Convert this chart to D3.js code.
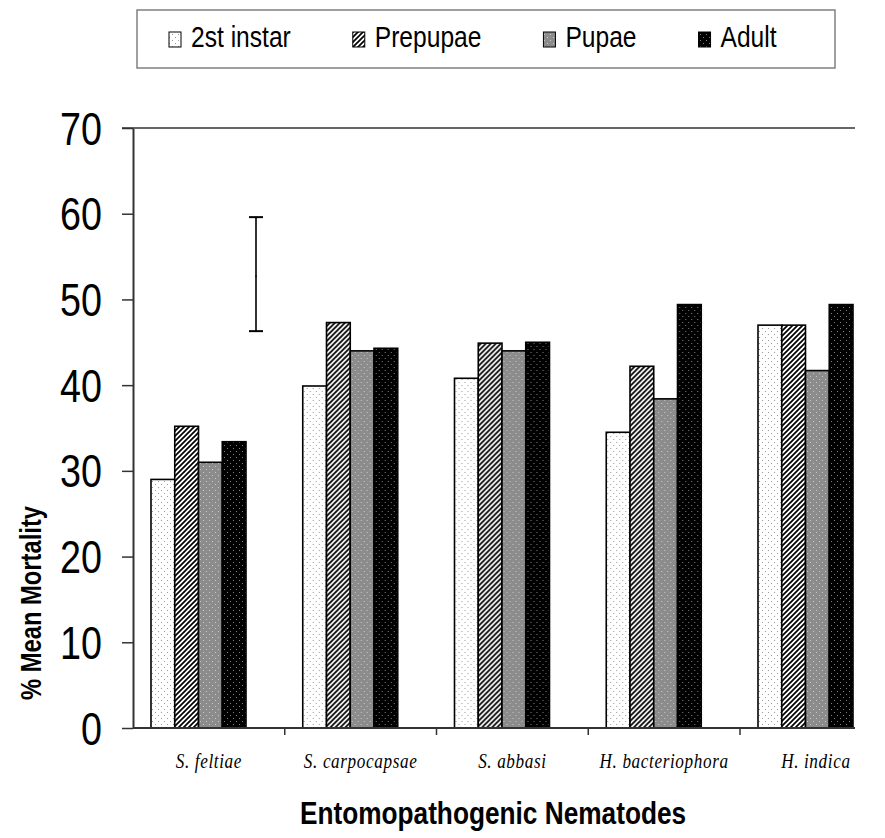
<!DOCTYPE html>
<html>
<head>
<meta charset="utf-8">
<script src="https://cdn.jsdelivr.net/npm/d3@7"></script>
<style>
  body { margin: 0; background: #fff; }
  svg { display: block; }
</style>
</head>
<body>
<div id="chart"></div>
<script>
const categories = ['S. feltiae', 'S. carpocapsae', 'S. abbasi', 'H. bacteriophora', 'H. indica']
const stages = ['2st instar', 'Prepupae', 'Pupae', 'Adult']
const instar2 = [29.0, 39.9, 40.8, 34.5, 47.0]
const prepupae = [35.2, 47.3, 44.9, 42.2, 47.0]
const pupae = [31.0, 44.0, 44.0, 38.4, 41.7]
const adult = [33.4, 44.3, 45.0, 49.4, 49.4]
const yTicks = [0, 10, 20, 30, 40, 50, 60, 70]
const lsd = [46.3, 52.7, 59.6]   // low, mid mark, high

const series = [instar2, prepupae, pupae, adult]

const width = 885
const height = 838
const sans = "'Liberation Sans', Arial, sans-serif"
const serif = "'Liberation Serif', 'Times New Roman', serif"
const squeeze = 0.82   // no narrow face installed, so condense the sans by hand

const svg = d3.select('#chart').append('svg')
    .attr('width', width)
    .attr('height', height)

const defs = svg.append('defs')

// fill patterns, one per stage
function dotPattern(id, bg, dot) {
    const p = defs.append('pattern')
        .attr('id', id)
        .attr('patternUnits', 'userSpaceOnUse')
        .attr('width', 6)
        .attr('height', 6)
    p.append('rect').attr('width', 6).attr('height', 6).attr('fill', bg)
    p.append('rect').attr('x', 1).attr('y', 1).attr('width', 1).attr('height', 1).attr('fill', dot)
    p.append('rect').attr('x', 4).attr('y', 4).attr('width', 1).attr('height', 1).attr('fill', dot)
}
dotPattern('pat-0', '#ffffff', '#9a9a9a')
dotPattern('pat-2', '#8c8c8c', '#c8c8c8')
dotPattern('pat-3', '#000000', '#808080')

const hatch = defs.append('pattern')
    .attr('id', 'pat-1')
    .attr('patternUnits', 'userSpaceOnUse')
    .attr('width', 5)
    .attr('height', 5)
hatch.append('rect').attr('width', 5).attr('height', 5).attr('fill', '#fff')
hatch.append('path')
    .attr('d', 'M0,5 L5,0 M-1,1 L1,-1 M4,6 L6,4')
    .attr('stroke', '#000')
    .attr('stroke-width', 1.7)

// scales
const y = d3.scaleLinear().domain([0, 70]).range([728, 128])
const x0 = d3.scaleBand().domain(categories).range([133, 133 + 5 * 151.75])
const groupOffset = 18
const x1 = d3.scaleBand().domain(stages).range([0, 95])
const axisRight = 855

// bars
const groups = svg.append('g').selectAll('g')
    .data(categories)
    .enter()
    .append('g')
    .attr('transform', d => `translate(${ x0(d) + groupOffset }, 0)`)

groups.selectAll('rect')
    .data((c, i) => stages.map((s, j) => ({ stage: s, j: j, value: series[j][i] })))
    .enter()
    .append('rect')
    .attr('x', d => x1(d.stage))
    .attr('y', d => y(d.value))
    .attr('width', x1.bandwidth())
    .attr('height', d => y(0) - y(d.value))
    .attr('fill', d => `url(#pat-${ d.j })`)
    .attr('stroke', '#000')
    .attr('stroke-width', 1.6)

// y axis
const yAxis = svg.append('g')
    .attr('transform', 'translate(133,0)')
    .call(d3.axisLeft(y).tickValues(yTicks).tickSize(11).tickSizeOuter(0).tickFormat(''))
yAxis.select('.domain').attr('stroke', '#333').attr('stroke-width', 2)
yAxis.selectAll('.tick line').attr('stroke', '#333').attr('stroke-width', 1.5)

svg.append('g').selectAll('text')
    .data(yTicks)
    .enter()
    .append('text')
    .attr('transform', d => `translate(102, ${ y(d) }) scale(${ squeeze },1)`)
    .attr('text-anchor', 'end')
    .attr('dy', '0.36em')
    .attr('font-family', sans)
    .attr('font-size', 46)
    .text(d => d)

// top border line
svg.append('line')
    .attr('x1', 122).attr('x2', axisRight)
    .attr('y1', y(70)).attr('y2', y(70))
    .attr('stroke', '#333')
    .attr('stroke-width', 1.5)

// x axis
svg.append('line')
    .attr('x1', 133).attr('x2', axisRight)
    .attr('y1', y(0)).attr('y2', y(0))
    .attr('stroke', '#333')
    .attr('stroke-width', 2)

svg.append('g').selectAll('line')
    .data(categories.slice(1))
    .enter()
    .append('line')
    .attr('x1', d => x0(d)).attr('x2', d => x0(d))
    .attr('y1', y(0)).attr('y2', y(0) + 7)
    .attr('stroke', '#333')
    .attr('stroke-width', 1.5)

svg.append('g').selectAll('text')
    .data(categories)
    .enter()
    .append('text')
    .attr('transform', d => `translate(${ x0(d) + x0.bandwidth() / 2 }, 768) scale(0.78,1)`)
    .attr('text-anchor', 'middle')
    .attr('font-family', serif)
    .attr('font-style', 'italic')
    .attr('font-size', 22)
    .attr('letter-spacing', 0.8)
    .text(d => d)

// LSD bar
const ex = x0(categories[0]) + groupOffset + 95 + 10
const eb = svg.append('g').attr('stroke', '#000')
eb.append('line').attr('x1', ex).attr('x2', ex).attr('y1', y(lsd[0])).attr('y2', y(lsd[2])).attr('stroke-width', 1.6)
eb.append('line').attr('x1', ex - 7).attr('x2', ex + 7).attr('y1', y(lsd[0])).attr('y2', y(lsd[0])).attr('stroke-width', 2)
eb.append('line').attr('x1', ex - 7).attr('x2', ex + 7).attr('y1', y(lsd[2])).attr('y2', y(lsd[2])).attr('stroke-width', 2)
eb.append('line').attr('x1', ex - 1).attr('x2', ex + 1).attr('y1', y(lsd[1])).attr('y2', y(lsd[1])).attr('stroke-width', 1)

// axis titles
svg.append('text')
    .attr('transform', `translate(41,603) rotate(-90) scale(${ squeeze },1)`)
    .attr('text-anchor', 'middle')
    .attr('font-family', sans)
    .attr('font-weight', 'bold')
    .attr('font-size', 29)
    .text('% Mean Mortality')

svg.append('text')
    .attr('transform', `translate(493,824) scale(${ squeeze },1)`)
    .attr('text-anchor', 'middle')
    .attr('font-family', sans)
    .attr('font-weight', 'bold')
    .attr('font-size', 32)
    .text('Entomopathogenic Nematodes')

// legend
svg.append('rect')
    .attr('x', 137).attr('y', 10)
    .attr('width', 698).attr('height', 58)
    .attr('fill', '#fff')
    .attr('stroke', '#808080')
    .attr('stroke-width', 1.5)

const legend = svg.append('g')
let lx = 169
stages.forEach((s, j) => {
    legend.append('rect')
        .attr('x', lx).attr('y', 32)
        .attr('width', 12).attr('height', 15)
        .attr('fill', `url(#pat-${ j })`)
        .attr('stroke', '#000')
        .attr('stroke-width', 1)
    const t = legend.append('text')
        .attr('transform', `translate(${ lx + 22 }, 47) scale(${ squeeze },1)`)
        .attr('font-family', sans)
        .attr('font-size', 30)
        .text(s)
    lx += 22 + t.node().getComputedTextLength() * squeeze + 62
})
</script>
</body>
</html>
